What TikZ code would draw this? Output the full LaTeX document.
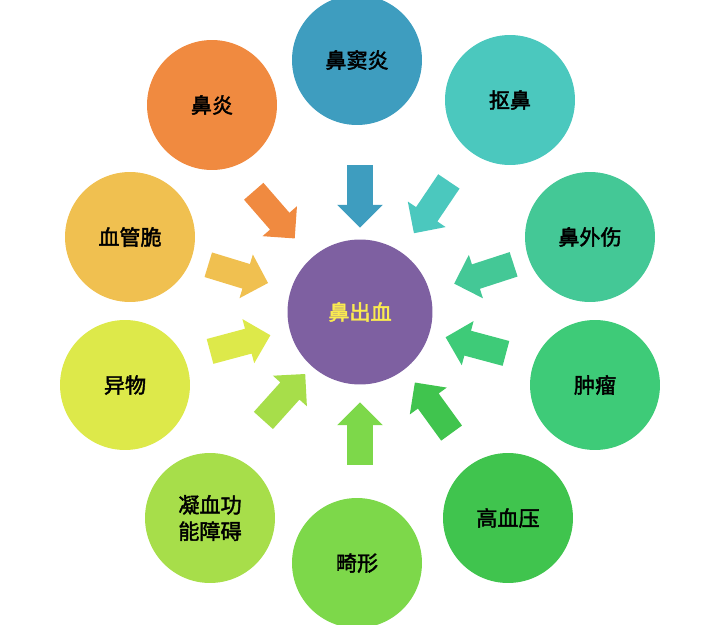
\documentclass[tikz,border=0pt]{standalone}
\usepackage{fontspec}
\newfontfamily\cjk[AutoFakeBold=2]{Noto Sans CJK SC}
\usetikzlibrary{shapes.arrows}
\begin{document}
\begin{tikzpicture}[x=0.02cm, y=-0.02cm,
    nodeStyle/.style={circle, minimum size=2.6cm, inner sep=0pt, align=center, font=\cjk\bfseries\fontsize{12}{15}\selectfont},
    arrowStyle/.style={single arrow, minimum height=1.25cm, inner sep=0.25cm, single arrow head extend=0.2cm}]
    \useasboundingbox (0,0) rectangle (723,625);
    \node[nodeStyle, minimum size=2.9cm, fill={rgb,255:red,126;green,96;blue,161}, text={rgb,255:red,250;green,235;blue,80}](center) at (360,312) {鼻出血};
    \node[nodeStyle, fill={rgb,255:red,62;green,157;blue,191}](n1) at (357,60) {鼻窦炎};
    \node[nodeStyle, fill={rgb,255:red,75;green,200;blue,190}](n2) at (510,100) {抠鼻};
    \node[nodeStyle, fill={rgb,255:red,68;green,200;blue,150}](n3) at (590,237) {鼻外伤};
    \node[nodeStyle, fill={rgb,255:red,62;green,203;blue,120}](n4) at (595,385) {肿瘤};
    \node[nodeStyle, fill={rgb,255:red,64;green,196;blue,78}](n5) at (508,518) {高血压};
    \node[nodeStyle, fill={rgb,255:red,125;green,216;blue,74}](n6) at (357,563) {畸形};
    \node[nodeStyle, fill={rgb,255:red,167;green,222;blue,74}](n7) at (210,518) {凝血功\\能障碍};
    \node[nodeStyle, fill={rgb,255:red,221;green,233;blue,74}](n8) at (125,385) {异物};
    \node[nodeStyle, fill={rgb,255:red,240;green,192;blue,80}](n9) at (130,237) {血管脆};
    \node[nodeStyle, fill={rgb,255:red,240;green,138;blue,64}](n10) at (212,105) {鼻炎};

    \node[arrowStyle, fill={rgb,255:red,62;green,157;blue,191}, rotate=-90](a1) at (360,190) {};
    \node[arrowStyle, fill={rgb,255:red,75;green,200;blue,190}, rotate=-124](a2) at (435,202) {};
    \node[arrowStyle, fill={rgb,255:red,68;green,200;blue,150}, rotate=-162](a3) at (490,272) {};
    \node[arrowStyle, fill={rgb,255:red,62;green,203;blue,120}, rotate=165](a4) at (482,347) {};
    \node[arrowStyle, fill={rgb,255:red,64;green,196;blue,78}, rotate=126](a5) at (437,413) {};
    \node[arrowStyle, fill={rgb,255:red,125;green,216;blue,74}, rotate=90](a6) at (360,440) {};
    \node[arrowStyle, fill={rgb,255:red,167;green,222;blue,74}, rotate=48](a7) at (280,402) {};
    \node[arrowStyle, fill={rgb,255:red,221;green,233;blue,74}, rotate=15](a8) at (234,345) {};
    \node[arrowStyle, fill={rgb,255:red,240;green,192;blue,80}, rotate=-17](a9) at (232,272) {};
    \node[arrowStyle, fill={rgb,255:red,240;green,138;blue,64}, rotate=-49](a10) at (270,210) {};
\end{tikzpicture}
\end{document}
